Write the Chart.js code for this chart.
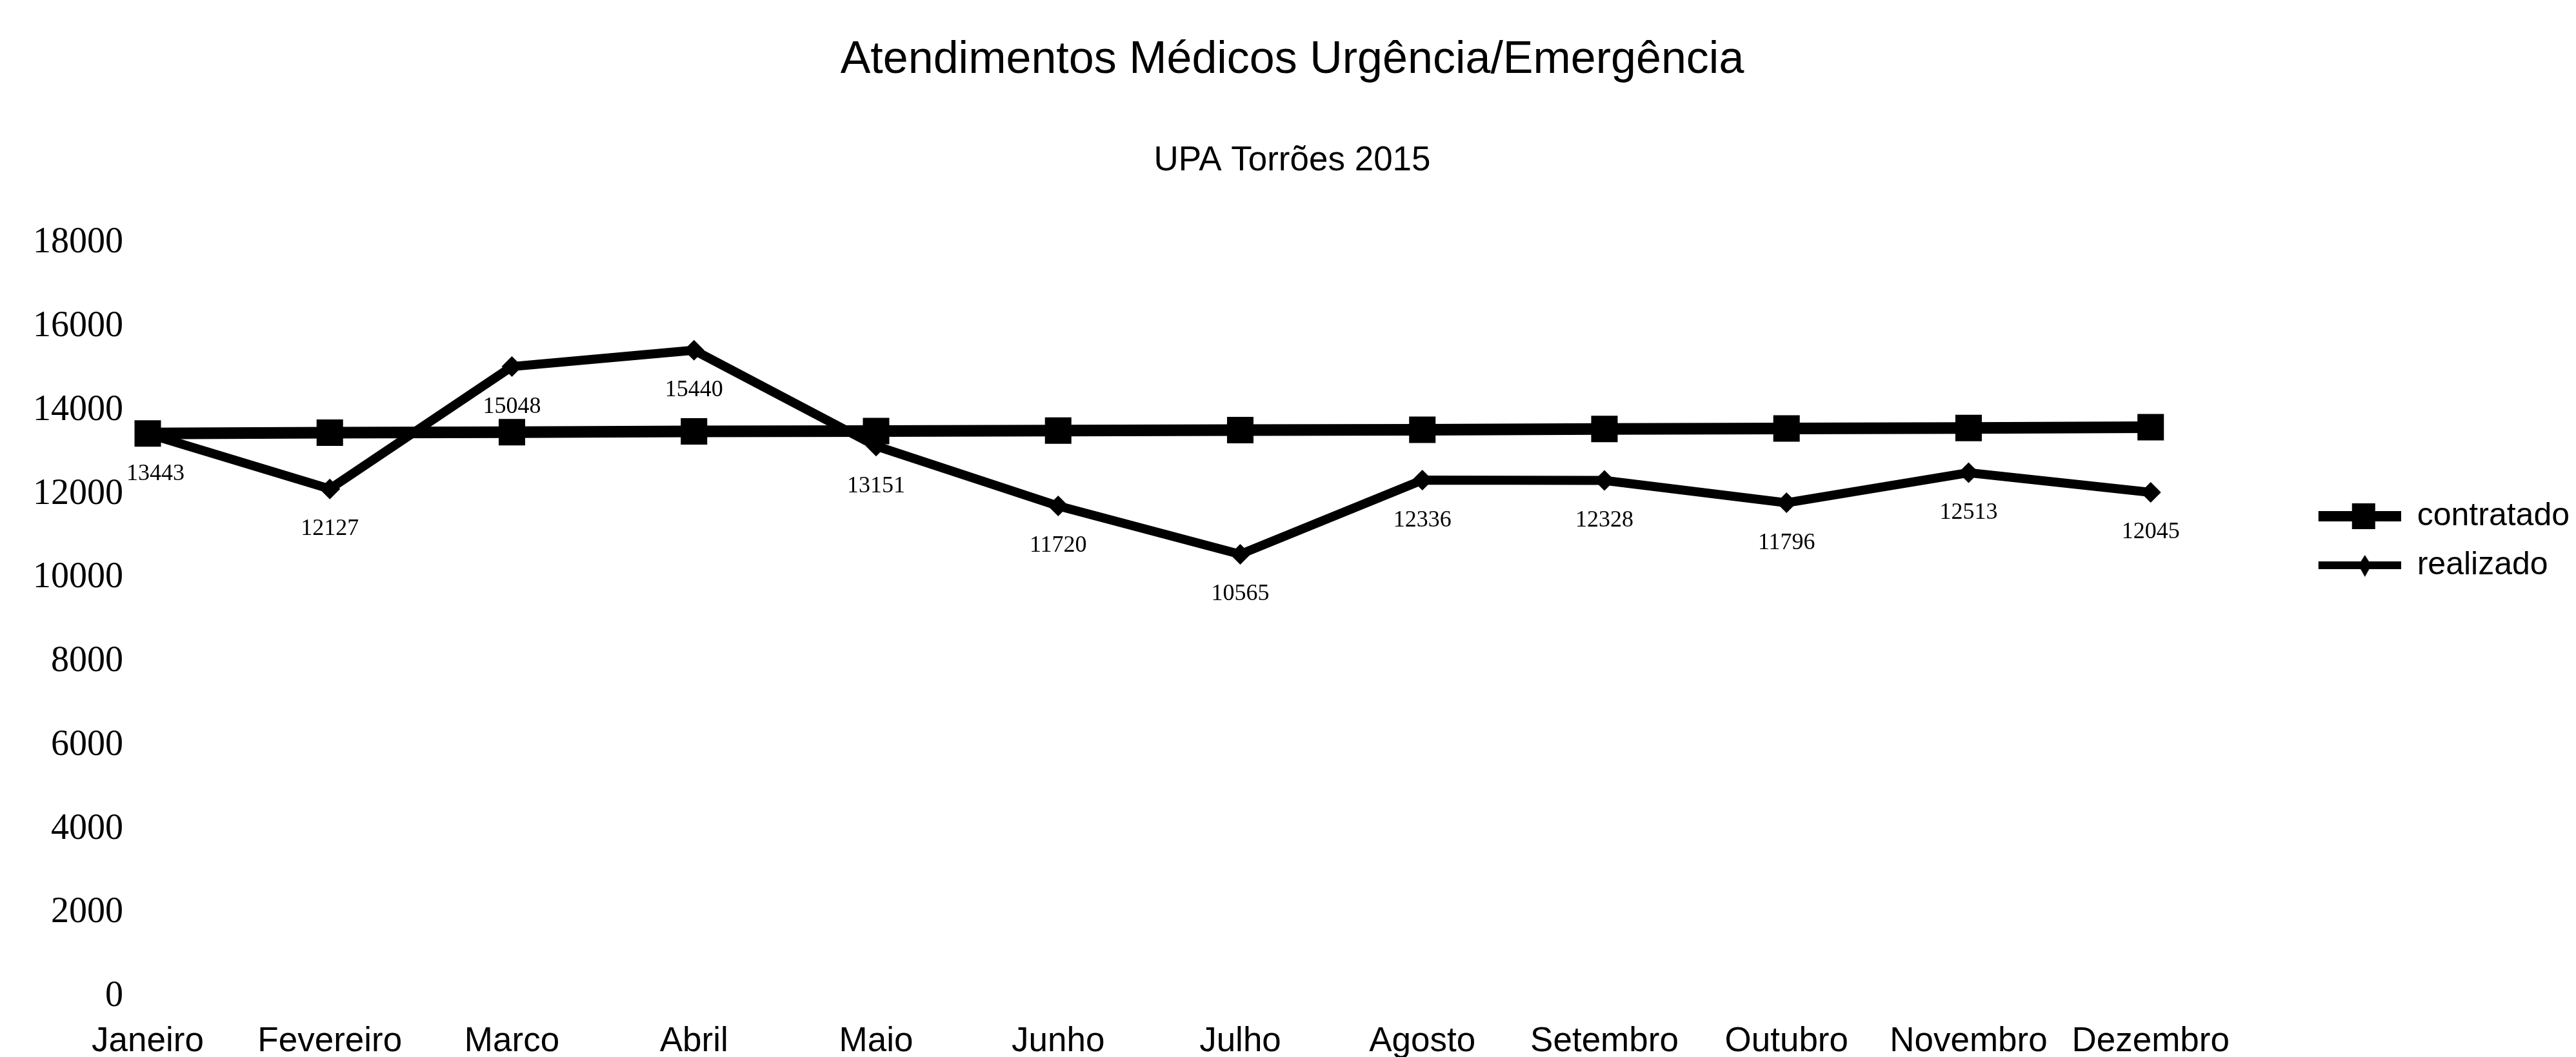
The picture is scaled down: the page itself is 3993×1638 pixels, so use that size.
<!DOCTYPE html>
<html>
<head>
<meta charset="utf-8">
<script src="https://cdn.jsdelivr.net/npm/chart.js@4.4.1/dist/chart.umd.min.js"></script>
<style>
  html, body { margin: 0; padding: 0; background: #fff; }
</style>
</head>
<body>
<canvas id="atendChart" width="3993" height="1638"></canvas>
<script>
// dados
const meses = ['Janeiro', 'Fevereiro', 'Marco', 'Abril', 'Maio', 'Junho', 'Julho',
               'Agosto', 'Setembro', 'Outubro', 'Novembro', 'Dezembro'];
const contratado = [13450, 13470, 13480, 13500, 13510, 13520, 13530, 13540, 13560, 13570, 13580, 13600];
const realizado = [13443, 12127, 15048, 15440, 13151, 11720, 10565, 12336, 12328, 11796, 12513, 12045];
const yMin = 0, yMax = 18000, yPasso = 2000;

// icone da legenda: linha com marcador (a parte esquerda fica vazia
// para abrir espaco entre o grafico e a legenda)
const folgaLegenda = 234;
function iconeLegenda(tipo) {
    var c = document.createElement('canvas');
    c.width = folgaLegenda + 128; c.height = 44;
    var g = c.getContext('2d');
    var x0 = folgaLegenda;
    g.strokeStyle = '#000';
    g.fillStyle = '#000';
    g.lineWidth = tipo === 'quadrado' ? 16 : 12;
    g.beginPath(); g.moveTo(x0, 22); g.lineTo(x0 + 128, 22); g.stroke();
    if (tipo === 'quadrado') {
        g.fillRect(x0 + 52, 2, 36, 40);
    } else {
        g.beginPath();
        g.moveTo(x0 + 72, 6); g.lineTo(x0 + 82, 22); g.lineTo(x0 + 72, 40); g.lineTo(x0 + 62, 22);
        g.closePath(); g.fill();
    }
    return c;
}
const icones = [iconeLegenda('quadrado'), iconeLegenda('losango')];

// rotulos com os valores realizados
const rotulosPlugin = {
    id: 'rotulos',
    afterDatasetsDraw(chart) {
        const meta = chart.getDatasetMeta(1);
        const ctx = chart.ctx;
        ctx.save();
        ctx.font = '36px "Liberation Serif"';
        ctx.fillStyle = '#000';
        ctx.textAlign = 'center';
        ctx.textBaseline = 'middle';
        meta.data.forEach((pt, i) => {
            ctx.fillText(String(realizado[i]), pt.x + (i === 0 ? 12 : 0), pt.y + 62);
        });
        ctx.restore();
    }
};

const data = {
    labels: meses,
    datasets: [
        {
            label: 'contratado',
            data: contratado,
            borderColor: '#000',
            backgroundColor: '#000',
            borderWidth: 18,
            pointStyle: 'rect',
            pointRadius: 29,
            pointHoverRadius: 29,
            pointBorderWidth: 0,
            tension: 0
        },
        {
            label: 'realizado',
            data: realizado,
            borderColor: '#000',
            backgroundColor: '#000',
            borderWidth: 14,
            pointStyle: 'rectRot',
            pointRadius: 16,
            pointHoverRadius: 16,
            pointBorderWidth: 0,
            tension: 0
        }
    ]
};

const config = {
    type: 'line',
    data: data,
    plugins: [rotulosPlugin],
    options: {
        responsive: false,
        animation: false,
        devicePixelRatio: 1,
        layout: { padding: { left: 13, right: 0, top: 0, bottom: -38 } },
        plugins: {
            title: {
                display: true,
                text: 'Atendimentos Médicos Urgência/Emergência',
                color: '#000',
                font: { family: '"Liberation Sans"', size: 70, weight: 'normal' },
                padding: { top: 52, bottom: 82 }
            },
            subtitle: {
                display: true,
                text: 'UPA Torrões 2015',
                color: '#000',
                font: { family: '"Liberation Sans"', size: 53, weight: 'normal' },
                padding: { top: 0, bottom: 95 }
            },
            legend: {
                position: 'right',
                align: 'center',
                labels: {
                    color: '#000',
                    font: { family: '"Liberation Sans"', size: 50 },
                    usePointStyle: true,
                    pointStyleWidth: folgaLegenda + 128,
                    padding: 26,
                    generateLabels(chart) {
                        const itens = Chart.defaults.plugins.legend.labels.generateLabels(chart);
                        itens.forEach((it, i) => { it.pointStyle = icones[i]; });
                        return itens;
                    }
                }
            },
            tooltip: { enabled: false }
        },
        scales: {
            x: {
                offset: false,
                grid: { display: false },
                border: { display: false },
                ticks: {
                    color: '#000',
                    padding: 30,
                    maxRotation: 0,
                    autoSkip: false,
                    font: { family: '"Liberation Sans"', size: 53 }
                }
            },
            y: {
                min: yMin,
                max: yMax,
                grid: { display: false, drawTicks: false },
                border: { display: false },
                ticks: {
                    stepSize: yPasso,
                    color: '#000',
                    padding: 38,
                    font: { family: '"Liberation Serif"', size: 56 },
                    callback: (v) => String(v)
                }
            }
        }
    }
};

var ctx = document.getElementById('atendChart').getContext('2d');
var lineChart = new Chart(ctx, config);
</script>
</body>
</html>
